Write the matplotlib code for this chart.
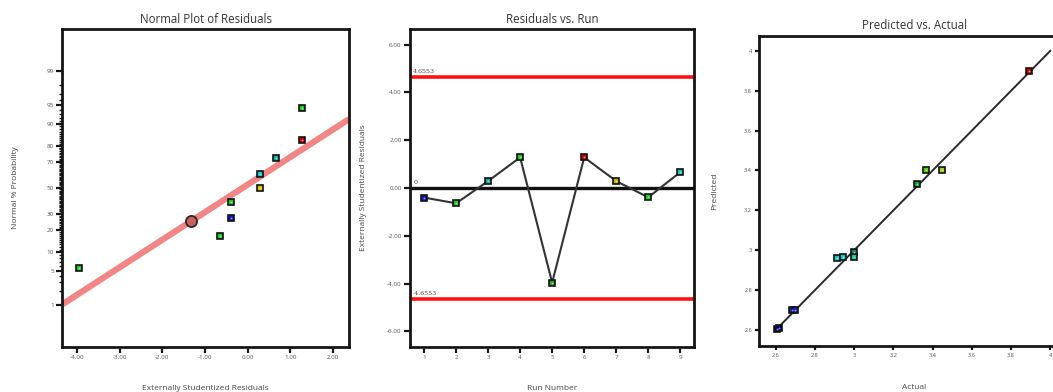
import matplotlib
matplotlib.use("Agg")
import numpy as np
import matplotlib.pyplot as plt
from matplotlib.ticker import FixedLocator, FixedFormatter, NullFormatter
from statistics import NormalDist

# ---------------- data ----------------
# Residuals vs. run
runs = [1, 2, 3, 4, 5, 6, 7, 8, 9]
run_residuals = [-0.40, -0.64, 0.29, 1.28, -3.96, 1.28, 0.29, -0.39, 0.66]
run_colors = ['#1414c8', '#1ec81e', '#18a8a0', '#22c822', '#2c9a2c',
              '#c80000', '#c8b400', '#1ec81e', '#20c0b0']

# Normal plot (residuals sorted, with their cumulative probability in %)
sorted_residuals = [-3.96, -0.64, -0.40, -0.39, 0.29, 0.29, 0.66, 1.28, 1.28]
normal_pct = [5.6, 16.7, 27.8, 38.9, 50.0, 61.1, 72.2, 83.3, 94.4]
normal_colors = ['#22c822', '#22c822', '#1414c8', '#22c822', '#d8c800',
                 '#10c8d8', '#10b0a0', '#c80000', '#22c822']
prob_ticks = [1, 5, 10, 20, 30, 50, 70, 80, 90, 95, 99]
fit_mean = -0.126
fit_sd = 1.818
fit_marker_x = -1.33

# control limits for externally studentized residuals
limit_value = 4.6553

# Predicted vs. actual
actual = [2.605, 2.615, 2.685, 2.700, 2.910, 2.944, 3.000, 3.000, 3.321, 3.365, 3.450, 3.893]
predicted = [2.605, 2.612, 2.700, 2.700, 2.960, 2.965, 2.990, 2.965, 3.330, 3.400, 3.400, 3.897]
pva_colors = ['#000070', '#000090', '#1020c0', '#1020c0', '#10c8c8', '#10c8c8',
              '#108070', '#10c0a0', '#10a030', '#58d020', '#a0d020', '#c00000']
diag_range = (2.6, 4.0)
pva_ticks = [2.6, 2.8, 3.0, 3.2, 3.4, 3.6, 3.8, 4.0]
pva_ticklabels = ['2.6', '2.8', '3', '3.2', '3.4', '3.6', '3.8', '4']

# ---------------- style ----------------
plt.rcParams['font.family'] = ['Open Sans', 'DejaVu Sans']
TITLE_FS = 8.3
LABEL_FS = 6
TICK_FS = 4.5
LABEL_COLOR = '#444444'
TICK_COLOR = '#555555'

W, H = 1053, 392
fig = plt.figure(figsize=(W / 100, H / 100), dpi=100)


def px_axes(x0, x1, y0, y1):
    return fig.add_axes([x0 / W, 1 - y1 / H, (x1 - x0) / W, (y1 - y0) / H])


def style_axes(ax, tick_len=4):
    for s in ax.spines.values():
        s.set_linewidth(2.0)
        s.set_color('#151515')
    ax.tick_params(direction='out', length=tick_len, width=1.6, color='#151515',
                   labelsize=TICK_FS, labelcolor=TICK_COLOR, pad=2)


def squares(ax, x, y, colors, ms=4.6):
    for xi, yi, c in zip(x, y, colors):
        ax.plot(xi, yi, 's', ms=ms, mfc=c, mec='#111111', mew=1.2, zorder=5)
        ax.plot(xi, yi, 'o', ms=1.3, mfc='#e8ffe8', mec='none', alpha=0.6, zorder=6)


# ---------- Normal plot of residuals ----------
_nd = NormalDist()


def to_z(p):
    arr = np.asarray(p, dtype=float)
    flat = np.clip(arr.ravel(), 1e-6, 100 - 1e-6) / 100.0
    return np.array([_nd.inv_cdf(float(v)) for v in flat]).reshape(arr.shape)


def from_z(z):
    arr = np.asarray(z, dtype=float)
    flat = arr.ravel()
    return np.array([_nd.cdf(float(v)) * 100 for v in flat]).reshape(arr.shape)


ax1 = px_axes(62, 349, 29, 347)
ax1.set_yscale('function', functions=(to_z, from_z))
ax1.set_xlim(-4.35, 2.37)
ax1.set_ylim(float(from_z(-3.17)), float(from_z(3.17)))

xs = np.linspace(-4.35, 2.37, 50)
line_pct = from_z((xs - fit_mean) / fit_sd)
ax1.plot(xs, line_pct, color='#f07070', lw=4.5, alpha=0.85, solid_capstyle='butt', zorder=2)
ax1.plot(fit_marker_x, float(from_z((fit_marker_x - fit_mean) / fit_sd)), 'o', ms=8,
         mfc='#c86060', mec='#2a2a2a', mew=1.3, zorder=4)
squares(ax1, sorted_residuals, normal_pct, normal_colors)

ax1.xaxis.set_major_locator(FixedLocator([-4, -3, -2, -1, 0, 1, 2]))
ax1.xaxis.set_major_formatter(FixedFormatter(['-4.00', '-3.00', '-2.00', '-1.00',
                                              '0.00', '1.00', '2.00']))
ax1.yaxis.set_major_locator(FixedLocator(prob_ticks))
ax1.yaxis.set_major_formatter(FixedFormatter([str(t) for t in prob_ticks]))
minor = [v for v in range(1, 100) if v not in prob_ticks]
ax1.yaxis.set_minor_locator(FixedLocator(minor))
ax1.yaxis.set_minor_formatter(NullFormatter())
style_axes(ax1)
ax1.tick_params(axis='y', which='minor', length=2.2, width=1.0, color='#151515')
ax1.set_title('Normal Plot of Residuals', fontsize=TITLE_FS, color='#333333', pad=4)
ax1.set_xlabel('Externally Studentized Residuals', fontsize=LABEL_FS, color=LABEL_COLOR)
ax1.xaxis.set_label_coords(0.5, -0.118)
ax1.set_ylabel('Normal % Probability', fontsize=LABEL_FS, color=LABEL_COLOR)
ax1.yaxis.set_label_coords(-0.15, 0.5)

# ---------- Residuals vs. run ----------
ax2 = px_axes(410, 694, 29, 347)
ax2.set_xlim(0.56, 9.43)
ax2.set_ylim(-6.65, 6.65)
ax2.axhline(limit_value, color='#ff1010', lw=2.6, zorder=2)
ax2.axhline(-limit_value, color='#ff1010', lw=2.6, zorder=2)
ax2.axhline(0, color='#111111', lw=2.4, zorder=2)
ax2.plot(runs, run_residuals, color='#333333', lw=1.5, zorder=3)
squares(ax2, runs, run_residuals, run_colors)
lab_kw = dict(fontsize=4.5, color='#444444', family='DejaVu Serif', va='bottom', ha='left')
ax2.text(0.66, limit_value + 0.12, f'{limit_value:.4f}', **lab_kw)
ax2.text(0.66, -limit_value + 0.12, f'{-limit_value:.4f}', **lab_kw)
ax2.text(0.66, 0.12, '0', **lab_kw)
ax2.xaxis.set_major_locator(FixedLocator(runs))
ax2.yaxis.set_major_locator(FixedLocator([-6, -4, -2, 0, 2, 4, 6]))
ax2.yaxis.set_major_formatter(FixedFormatter(['-6.00', '-4.00', '-2.00', '0.00',
                                              '2.00', '4.00', '6.00']))
style_axes(ax2)
ax2.set_title('Residuals vs. Run', fontsize=TITLE_FS, color='#333333', pad=4)
ax2.set_xlabel('Run Number', fontsize=LABEL_FS, color=LABEL_COLOR)
ax2.xaxis.set_label_coords(0.5, -0.118)
ax2.set_ylabel('Externally Studentized Residuals', fontsize=LABEL_FS, color=LABEL_COLOR)
ax2.yaxis.set_label_coords(-0.15, 0.5)

# ---------- Predicted vs. actual ----------
ax3 = px_axes(759, 1070, 36, 346)
ax3.set_xlim(2.515, 4.10)
ax3.set_ylim(2.52, 4.074)
ax3.plot(diag_range, diag_range, color='#2a2a2a', lw=1.4, zorder=2)
squares(ax3, actual, predicted, pva_colors, ms=4.4)
ax3.xaxis.set_major_locator(FixedLocator(pva_ticks))
ax3.xaxis.set_major_formatter(FixedFormatter(pva_ticklabels))
ax3.yaxis.set_major_locator(FixedLocator(pva_ticks))
ax3.yaxis.set_major_formatter(FixedFormatter(pva_ticklabels))
style_axes(ax3, tick_len=3)
ax3.tick_params(labelsize=4)
ax3.set_title('Predicted vs. Actual', fontsize=TITLE_FS, color='#333333', pad=5)
ax3.set_xlabel('Actual', fontsize=LABEL_FS, color=LABEL_COLOR)
ax3.xaxis.set_label_coords(0.5, -0.122)
ax3.set_ylabel('Predicted', fontsize=LABEL_FS, color=LABEL_COLOR)
ax3.yaxis.set_label_coords(-0.13, 0.5)

fig.savefig('out.png', dpi=100)
